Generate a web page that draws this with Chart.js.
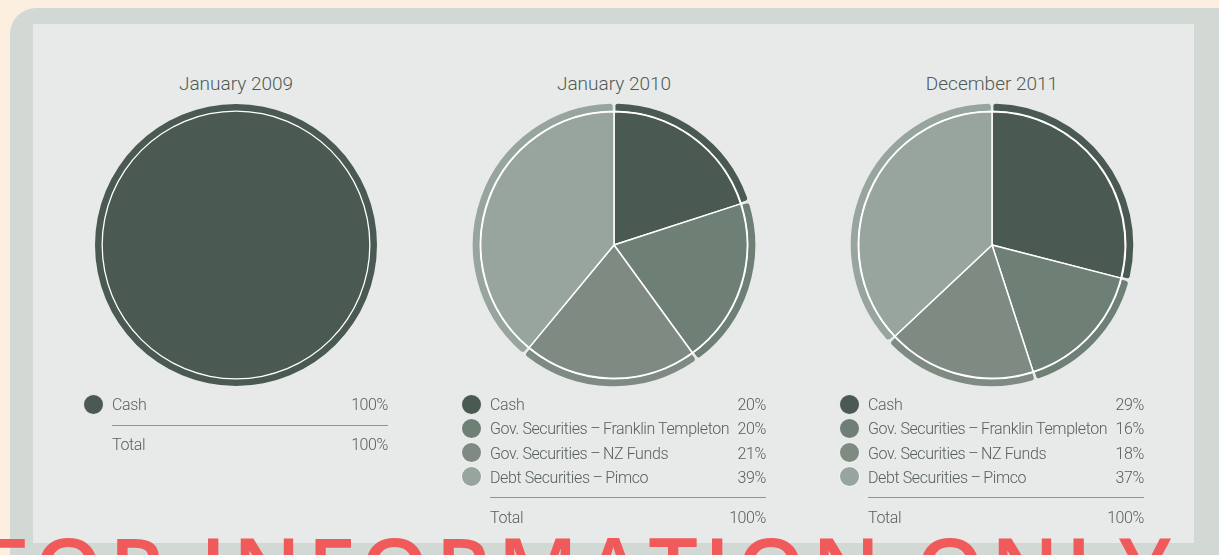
<!DOCTYPE html>
<html lang="en">
<head>
<meta charset="UTF-8">
<title>Portfolio Allocation</title>
<script src="https://cdn.jsdelivr.net/npm/chart.js"></script>
<style>
  body { margin:0; width:1219px; height:555px; overflow:hidden; position:relative;
         background:#fcefdf; font-family:Roboto, "Open Sans", sans-serif; color:#56615b; }
  .frame { position:absolute; left:10px; top:8px; width:1250px; height:600px; background:#d2d9d5; border-radius:26px; }
  .panel { position:absolute; left:33px; top:24px; width:1161px; height:519px; background:#e8eae9; }
  .abs { position:absolute; }
  .title { font-size:19px; font-weight:300; text-align:center; width:300px; color:#4f5a55; line-height:24px; }
  .pie { width:300px; height:300px; }
  .pie canvas { position:absolute; left:0; top:0; }
  .row { font-size:16px; font-weight:300; line-height:20px; white-space:nowrap; letter-spacing:-0.4px; }
  .val { text-align:right; width:120px; }
  .dot { width:19px; height:19px; border-radius:50%; border:1px solid rgba(255,255,255,0.85); }
  .rule { height:0; border-top:1px solid #c48a3f; }
  svg { position:absolute; left:0; top:0; }
</style>
</head>
<body>
<div class="frame"></div>
<div class="panel"></div>
<div id="root"></div>
<svg width="1219" height="555">
  <text id="wm" x="-19" y="602" font-family="Open Sans" font-size="88" font-weight="600" fill="#f15a5a"
        textLength="1190" lengthAdjust="spacing">FOR INFORMATION ONLY</text>
</svg>

<script>
  // chart data
  const titles = ['January 2009', 'January 2010', 'December 2011'];
  const categories = ['Cash', 'Gov. Securities\u2009\u2013\u2009Franklin Templeton', 'Gov. Securities\u2009\u2013\u2009NZ Funds', 'Debt Securities\u2009\u2013\u2009Pimco'];
  const jan2009 = [100];
  const jan2010 = [20, 20, 21, 39];
  const dec2011 = [29, 16, 18, 37];
  const totals = ['100%', '100%', '100%'];
  const colors = ['#4a5a52', '#6e7f75', '#7f8b82', '#97a59e'];

  const series = [jan2009, jan2010, dec2011];
  const centersX = [236, 614, 992];
  const centerY = 245;
  const panelBg = '#e8eae9';
  const root = document.getElementById('root');

  function el(cls, x, y, text) {
    const d = document.createElement('div');
    d.className = 'abs ' + cls;
    d.style.left = x + 'px';
    d.style.top = y + 'px';
    if (text !== undefined) d.textContent = text;
    root.appendChild(d);
    return d;
  }

  series.forEach((vals, i) => {
    const cx = centersX[i];
    const multi = vals.length > 1;
    el('title', cx - 150, 72, titles[i]);

    // two stacked canvases: the back one gives the outer rounded rim
    const wrap = el('pie', cx - 150, centerY - 150);
    const back = document.createElement('canvas');
    const front = document.createElement('canvas');
    [back, front].forEach(c => { c.width = 300; c.height = 300; wrap.appendChild(c); });

    const common = {
      responsive: false,
      animation: false,
      events: [],
      plugins: { legend: { display: false }, tooltip: { enabled: false } }
    };

    new Chart(back, {
      type: 'pie',
      data: {
        labels: categories.slice(0, vals.length),
        datasets: [{
          data: vals,
          backgroundColor: colors.slice(0, vals.length),
          borderColor: panelBg,
          borderWidth: multi ? 2.5 : 0,
          borderRadius: multi ? 4 : 0
        }]
      },
      options: Object.assign({ radius: multi ? 142.5 : 141 }, common)
    });

    new Chart(front, {
      type: 'pie',
      data: {
        labels: categories.slice(0, vals.length),
        datasets: [{
          data: [1],
          backgroundColor: '#ffffff',
          borderWidth: 0,
          weight: 1.3
        }, {
          data: vals,
          backgroundColor: colors.slice(0, vals.length),
          borderColor: '#ffffff',
          borderWidth: multi ? 1.5 : 0,
          weight: 133.2
        }]
      },
      options: Object.assign({ radius: 134.5 }, common)
    });

    // legend
    const pitch = 24.3;
    vals.forEach((v, j) => {
      const y = 404 + pitch * j;
      const dot = el('dot', cx - 153, y - 10.5);
      dot.style.background = colors[j];
      el('row', cx - 124, y - 9, categories[j]);
      el('row val', cx + 152 - 120, y - 9, v + '%');
    });
    const lastY = 404 + pitch * (vals.length - 1);
    const rule = el('rule', cx - 124, Math.round(lastY + 20.5));
    rule.style.width = '276px';
    el('row', cx - 124, lastY + 40 - 9, 'Total');
    el('row val', cx + 152 - 120, lastY + 40 - 9, totals[i]);
  });
</script>
</body>
</html>
